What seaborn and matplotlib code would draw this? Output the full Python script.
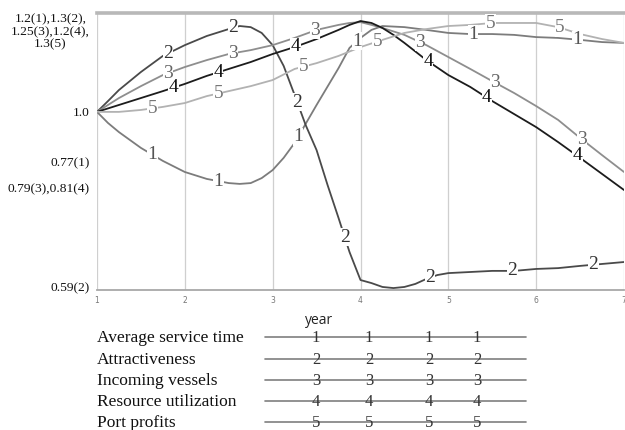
import numpy as np
import pandas as pd
import matplotlib
matplotlib.use("Agg")
import matplotlib.pyplot as plt
import seaborn as sns

# ---------------- data (relative position on the shared 0-100 scale) ----------------
avg_service_years = [1.0, 1.125, 1.25, 1.5, 1.75, 2.0, 2.25, 2.5, 2.625, 2.75, 2.875, 3.0, 3.125, 3.25,
                     3.5, 3.75, 3.875, 4.0, 4.125, 4.25, 4.5, 4.75, 5.0, 5.25, 5.5, 5.75,
                     6.0, 6.25, 6.5, 6.75, 7.0]
average_service_time = [64.3, 60.3, 57.0, 51.3, 46.6, 42.6, 40.1, 38.6, 38.3, 38.6, 40.4, 43.3, 47.7, 53.1,
                        66.8, 80.1, 87.4, 91.0, 93.9, 95.3, 94.9, 93.9, 92.8, 92.4, 92.4, 92.1,
                        91.3, 91.0, 90.3, 89.5, 89.2]

attractiveness_years = [1.0, 1.125, 1.25, 1.5, 1.75, 2.0, 2.25, 2.5, 2.625, 2.75, 2.875, 3.0,
                        3.125, 3.25, 3.375, 3.5, 3.625, 3.75, 3.875, 4.0, 4.125, 4.25, 4.375,
                        4.5, 4.625, 4.75, 4.875, 5.0, 5.25, 5.5, 5.75, 6.0, 6.25, 6.5, 6.75, 7.0]
attractiveness = [64.3, 68.2, 72.2, 78.7, 84.5, 88.4, 91.7, 94.2, 95.3, 94.9, 92.8, 88.4,
                  80.9, 70.4, 59.6, 50.5, 37.9, 26.0, 13.7, 3.6, 2.5, 1.1, 0.7,
                  1.1, 2.2, 4.0, 5.4, 6.1, 6.5, 6.9, 6.9, 7.6, 7.9, 8.7, 9.4, 10.1]

incoming_years = [1.0, 1.25, 1.5, 1.75, 2.0, 2.25, 2.5, 2.75, 3.0, 3.25, 3.5, 3.75, 3.875,
                  4.0, 4.125, 4.25, 4.5, 4.75, 5.0, 5.25, 5.5, 5.75, 6.0, 6.25, 6.5, 6.75, 7.0]
incoming_vessels = [64.3, 69.3, 73.6, 77.6, 80.5, 83.0, 85.2, 86.6, 88.4, 91.0, 93.9, 95.7, 96.4,
                    96.7, 95.7, 94.6, 92.1, 88.4, 84.1, 79.8, 75.4, 71.1, 66.4, 61.4, 54.9, 48.7, 42.6]

resource_years = [1.0, 1.25, 1.5, 1.75, 2.0, 2.25, 2.5, 2.75, 3.0, 3.25, 3.5, 3.75, 3.875,
                  4.0, 4.125, 4.25, 4.375, 4.5, 4.75, 5.0, 5.25, 5.5, 5.75, 6.0, 6.25, 6.5,
                  6.75, 7.0]
resource_utilization = [64.3, 66.8, 69.3, 71.8, 74.4, 77.3, 79.8, 82.3, 85.2, 87.7, 90.6, 93.9, 95.7,
                        97.1, 96.4, 94.6, 92.1, 89.2, 83.0, 77.6, 73.3, 68.2, 63.5, 58.8, 53.4, 47.7,
                        41.9, 36.1]

profit_years = [1.0, 1.25, 1.5, 1.75, 2.0, 2.25, 2.5, 2.75, 3.0, 3.25, 3.5, 3.75, 4.0,
                4.25, 4.5, 4.75, 5.0, 5.25, 5.5, 5.75, 6.0, 6.25, 6.5, 6.75, 7.0]
port_profits = [64.3, 64.3, 65.0, 66.1, 67.5, 70.0, 71.8, 73.6, 75.8, 79.8, 81.9, 84.5, 87.7,
                90.3, 92.8, 94.2, 95.3, 95.7, 96.4, 96.4, 96.4, 94.9, 92.4, 90.6, 89.2]

series_names = ["Average service time", "Attractiveness", "Incoming vessels",
                "Resource utilization", "Port profits"]
series_ids = ["1", "2", "3", "4", "5"]
series_years = [avg_service_years, attractiveness_years, incoming_years,
                resource_years, profit_years]
series_values = [average_service_time, attractiveness, incoming_vessels,
                 resource_utilization, port_profits]

# years at which the series number is written on the curve
label_years = {
    "1": [1.63, 2.38, 3.29, 3.96, 5.28, 6.47],
    "2": [1.81, 2.55, 3.28, 3.82, 4.79, 5.73, 6.65],
    "3": [1.81, 2.55, 3.48, 4.68, 5.53, 6.52],
    "4": [1.87, 2.38, 3.26, 4.77, 5.44, 6.47],
    "5": [1.63, 2.38, 3.35, 4.19, 5.48, 6.27],
}

ytick_values = [1.1, 36.8, 46.2, 64.3, 93.9]
ytick_labels = ["0.59(2)", "0.79(3),0.81(4)", "0.77(1)", "1.0",
                "1.2(1),1.3(2),\n1.25(3),1.2(4),\n1.3(5)"]
xtick_values = [1, 2, 3, 4, 5, 6, 7]
xtick_labels = ["1", "2", "3", "4", "5", "6", "7"]

# ---------------- style ----------------
colors = {"1": "#7c7c7c", "2": "#4a4a4a", "3": "#8e8e8e", "4": "#1c1c1c", "5": "#b2b2b2"}
text_colors = {"1": "#555555", "2": "#333333", "3": "#666666", "4": "#111111", "5": "#777777"}

sns.set_theme(style="white")
plt.rcParams["font.family"] = ["Liberation Serif", "DejaVu Serif"]

df = pd.concat([
    pd.DataFrame({"year": yrs, "value": vals, "series": sid})
    for sid, yrs, vals in zip(series_ids, series_years, series_values)
], ignore_index=True)

fig = plt.figure(figsize=(6.25, 4.3), dpi=100)
ax = fig.add_axes([97 / 625, 1 - 290 / 430, 527 / 625, 277 / 430])

sns.lineplot(data=df, x="year", y="value", hue="series", palette=colors,
             linewidth=1.3, legend=False, ax=ax, zorder=3)

ax.set_xlim(1, 7)
ax.set_ylim(0, 100)
ax.set_xlabel("")
ax.set_ylabel("")

# numbers written on the curves
for sid, yrs, vals in zip(series_ids, series_years, series_values):
    for ly in label_years[sid]:
        yv = np.interp(ly, yrs, vals)
        ax.text(ly, yv, sid, ha="center", va="center", fontsize=14,
                color=text_colors[sid], zorder=5,
                bbox=dict(boxstyle="square,pad=0.02", fc="white", ec="none"))

# axes decoration
ax.set_xticks(xtick_values, xtick_labels)
ax.tick_params(axis="x", length=0, pad=4, labelsize=5.5, labelcolor="#777777")
for lbl in ax.get_xticklabels():
    lbl.set_family("DejaVu Sans")

ax.set_yticks(ytick_values, ytick_labels)
ax.tick_params(axis="y", length=0, pad=5, labelsize=9.7, labelcolor="#111111")
for lbl in ax.get_yticklabels():
    lbl.set_multialignment("center")
    lbl.set_linespacing(1.1)

ax.grid(axis="x", color="#cfcfcf", linewidth=0.9)
ax.grid(axis="y", visible=False)
for side in ["left", "right"]:
    ax.spines[side].set_visible(False)
ax.spines["top"].set_color("#b8b8b8")
ax.spines["top"].set_linewidth(2.6)
ax.spines["bottom"].set_color("#a8a8a8")
ax.spines["bottom"].set_linewidth(1.3)

ax.set_xlabel("year", fontsize=10, family=["Open Sans", "DejaVu Sans"], color="#222222")
ax.xaxis.set_label_coords((319 - 97) / 527, (290 - 313) / 277)

# ---------------- legend block below the chart ----------------
lax = fig.add_axes([0, 0, 1, 129 / 430])
lax.set_xlim(0, 625)
lax.set_ylim(430, 301)
lax.axis("off")
rows_y = [338, 360, 381, 402, 423]
mark_x = [316, 369, 429, 477]
for sid, name, ry in zip(series_ids, series_names, rows_y):
    lax.text(97, ry, name, ha="left", va="center", fontsize=12.5, color="#111111")
    lax.plot([265, 526], [ry - 1, ry - 1], color="#7f7f7f", linewidth=1.2)
    for mx in mark_x:
        lax.text(mx, ry, sid, ha="center", va="center", fontsize=12, color="#333333")

fig.savefig("out.png", dpi=100)
